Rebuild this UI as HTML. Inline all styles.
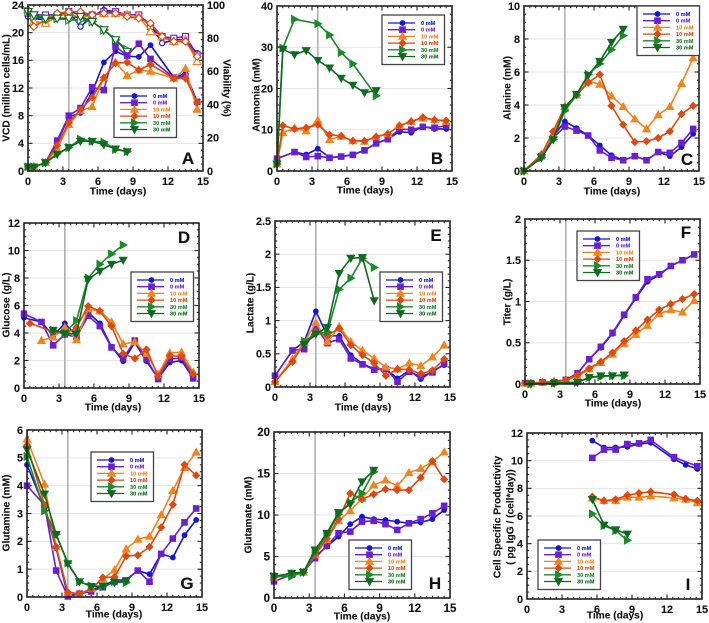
<!DOCTYPE html>
<html lang="en">
<head>
<meta charset="utf-8">
<title>Cell culture metrics by concentration</title>
<style>
html,body{margin:0;padding:0;background:#fff;width:709px;height:623px;overflow:hidden}
svg{display:block;filter:blur(.3px)}
text{font-family:"Liberation Sans",Arial,sans-serif;font-weight:bold;fill:#111;stroke:#111;stroke-width:.12px}
</style>
</head>
<body>
<svg id="figure" width="709" height="623" viewBox="0 0 709 623" xmlns="http://www.w3.org/2000/svg"></svg>
<script>
const _ = null;
const dayGrid = [0,0.5,1.5,2.5,3.5,4.5,5.5,6.5,7.5,8.5,9.5,10.5,11.5,12.5,13.5,14.5];
const dayGridI = [0,0.5,1.6,2.6,3.6,4.6,5.6,6.6,7.6,8.6,9.6,10.6,11.6,12.6,13.6,14.6];
const seriesLabels = ['0 mM','0 mM','10 mM','10 mM','30 mM','30 mM'];

const vcd0a = [.6,.6,1.2,4.2,7.8,8.4,11.4,15.7,17.3,16.6,16.5,18.2,_,13.5,14.1,10];
const vcd0b = [.6,.6,1.2,4.4,8,9.1,12.1,11.7,18,16.7,18.4,16.2,_,13.5,13.7,10];
const vcd10a = [.6,.6,1.2,3.2,6.7,8.7,9.3,13.5,15.7,13.8,14.6,14.4,_,13.4,14.8,8.9];
const vcd10b = [.6,.6,1.2,3.7,7,8.9,10.6,13.5,15.6,15.7,14.6,15.4,_,13.4,13.4,9.9];
const vcd30a = [.6,.6,1.2,2.5,3.4,4.6,4.3,4.2,3.1,2.8,_,_,_,_,_,_];
const vcd30b = [.6,.6,1.2,2.4,3.4,4.3,4.3,3.8,3.2,2.8,_,_,_,_,_,_];

const via0a = [93,92,91,94,96,87,93,97,96,94,94,88,77,79,79,71];
const via0b = [95,94,94,94,96,94,94,96,96,94,94,87,81,80,81,70];
const via10a = [97,90,89,93,95,92,94,95,95,94,93,84,81,78,79,66];
const via10b = [97,87,91,95,96,96,94,95,95,93,92,89,81,78,78,69];
const via30a = [96,93,92,92,91,91,90,85,79,73,_,_,_,_,_,_];
const via30b = [96,94,92,92,92,93,90,85,79,72,_,_,_,_,_,_];

const amm0a = [3,_,4.6,4,5.4,3.3,3.5,4,5,6.7,7.8,9.5,9.3,10.8,10.2,10.2];
const amm0b = [3,_,4.6,3.4,3.6,3.2,3.5,3.9,5,6.7,7.7,10.2,10,10.7,10.5,11];
const amm10a = [1.7,9.3,10.4,9.7,12.3,7.6,8.4,7.3,7.2,8.3,9,11,12,12.8,12.4,12];
const amm10b = [1.7,11,10.2,10.5,11.2,8.8,8.5,7.3,7.3,8.3,9,11,12,13,12.4,12.2];
const amm30a = [1.7,29.8,36.8,_,35.7,33,28.7,26,_,18.2,_,_,_,_,_,_];
const amm30b = [1.7,29.5,28.2,29.2,26.8,25,22.5,20.8,19,19.5,_,_,_,_,_,_];

const ala0a = [0,_,.9,2.1,3,2.6,2.15,1.55,.95,.65,.9,.65,1.15,.9,1.45,2.25];
const ala0b = [0,_,.9,2,2.7,2.45,2.15,1.25,.8,.65,.9,.65,1.15,1.1,1.7,2.55];
const ala10a = [0,_,1,2.2,3.9,4.6,5.45,5.25,4.55,3.9,3.15,2.55,3.4,3.9,5.3,6.85];
const ala10b = [0,_,1,2.4,3.9,4.6,5.35,5.85,3.95,2.8,1.75,1.8,2,2.4,3.45,3.95];
const ala30a = [0,_,.8,1.9,3.65,4.6,5.85,6.5,7.35,8.2,_,_,_,_,_,_];
const ala30b = [0,_,.8,1.9,3.85,4.65,5.8,6.65,7.8,8.6,_,_,_,_,_,_];

const glc0a = [5.1,_,4.8,3.8,4.7,3.8,5.5,4.7,3,1.95,3.3,1.95,.7,1.85,2,.7];
const glc0b = [5.4,_,4.8,3.1,3.9,3.7,5.25,4.5,2.95,2.15,3.45,2.1,.65,2.1,2.2,.7];
const glc10a = [_,_,3.45,3.7,4.4,3.5,5.75,5.6,4.8,3.2,3.35,2.5,1,2.55,2.6,1.15];
const glc10b = [_,4.7,_,4.1,3.95,4.4,5.95,5.6,4.5,2.5,2.15,2.8,.85,2.35,2.3,1];
const glc30a = [_,_,_,4.2,4,4.9,8,9,9.75,10.4,_,_,_,_,_,_];
const glc30b = [_,_,_,4.2,3.95,3.95,7.9,8.5,9,9.3,_,_,_,_,_,_];

const lac0a = [.17,_,.55,.68,1.14,.77,.77,.48,.35,.27,.27,.13,.25,.12,.24,.33];
const lac0b = [.17,_,.55,.57,.9,.66,.72,.43,.34,.26,.27,.08,.23,.16,.22,.35];
const lac10a = [.08,_,.42,.67,.97,.68,.91,.68,.55,.43,.3,.27,.36,.32,.45,.63];
const lac10b = [.08,_,.38,.66,.83,.78,.88,.63,.48,.36,.17,.27,.26,.2,.25,.42];
const lac30a = [_,_,_,.69,.8,.83,1.47,1.64,1.94,1.8,_,_,_,_,_,_];
const lac30b = [_,_,_,.64,.8,.9,1.71,1.94,1.95,1.3,_,_,_,_,_,_];

const tit0a = [.01,.01,.02,.02,.05,.13,.3,.44,.61,.83,1.04,1.24,1.32,1.43,1.5,1.57];
const tit0b = [.01,.01,.02,.02,.05,.13,.3,.45,.62,.84,1.05,1.27,1.33,1.43,1.5,1.57];
const tit10a = [.01,.01,.02,.03,.05,.09,.18,.26,.36,.49,.6,.71,.85,.9,.87,1.01];
const tit10b = [.01,.01,.02,.03,.05,.11,.19,.27,.38,.52,.65,.78,.9,.97,1.03,1.09];
const tit30a = [_,0,_,.01,_,.02,.08,.09,.1,.1,_,_,_,_,_,_];
const tit30b = [_,0,_,.01,_,.02,.08,.1,.1,.11,_,_,_,_,_,_];

const gln0a = [4.75,_,3.2,1.75,.05,.12,.25,.4,.6,.62,.95,.82,1.55,1.42,2.22,2.77];
const gln0b = [4,_,3.3,.95,.02,.12,.2,.35,.55,.6,.95,.55,1.55,2.1,2.68,3.18];
const gln10a = [5.67,_,4.05,1.8,.17,.1,.3,.65,.97,1.72,2.07,2.18,2.95,3.82,4.65,5.2];
const gln10b = [5.45,_,3.3,1.8,.17,.12,.28,.7,.72,1.47,1.5,1.8,2.5,3.32,4.75,4.37];
const gln30a = [5.05,_,3.1,2.25,1.22,.55,.4,.37,.55,.52,_,_,_,_,_,_];
const gln30b = [5.3,_,3.7,2.25,1.2,.55,.38,.4,.52,.58,_,_,_,_,_,_];

const glu0a = [2.5,_,2.8,3.1,5,6.2,7.4,8.9,9.8,9.5,9.4,9.2,9,9.1,9.5,10.6];
const glu0b = [2,_,2.8,3.1,4.8,6.3,7.8,8,9.2,9.3,8.9,8.2,9,9.5,10.2,11.1];
const glu10a = [2.5,_,2.9,3.1,5.2,7,9.3,10.5,12,13.6,14.2,13.5,15.1,15.6,16.4,17.6];
const glu10b = [2.5,_,2.9,3.1,5.2,7.2,9.5,12.6,11.9,12.5,13.1,13,13,14.5,16.5,14.3];
const glu30a = [2.6,_,2.6,3.1,5.5,7.6,10.1,11.5,12.6,15.2,_,_,_,_,_,_];
const glu30b = [2.6,_,3,3.1,5.8,7.8,10.3,11.3,14,15.4,_,_,_,_,_,_];

const csp0a = [_,_,_,_,_,_,11.45,10.95,10.95,11,11.2,11.3,_,10.1,9.7,9.4];
const csp0b = [_,_,_,_,_,_,10.2,10.8,10.8,11.2,11.25,11.5,_,10.25,_,9.6];
const csp10a = [_,_,_,_,_,_,7.3,7.1,7.1,7.35,7.35,7.45,_,7.3,7.2,6.95];
const csp10b = [_,_,_,_,_,_,7.4,7.1,7.2,7.5,7.65,7.75,_,7.55,7.25,7.1];
const csp30a = [_,_,_,_,_,_,6.15,5.3,4.95,4.25,_,_,_,_,_,_];
const csp30b = [_,_,_,_,_,_,7.2,5.35,5,4.7,_,_,_,_,_,_];

const colors = ['#1515d6','#6a1fd2','#f5821a','#e0480f','#1a8a2a','#0e6b1d'];
const shapes = ['circle','square','up','diamond','right','down'];

const panels = [
 {id:'a',letter:'A',L:28,R:203,T:5,B:171,yMax:24,yMajor:4,yMinor:1,title:['VCD (million cells/mL)'],tx:[6],ty:88,timeX:118,timeY:191,vline:true,
  series:[vcd0a,vcd0b,vcd10a,vcd10b,vcd30a,vcd30b],open:[via0a,via0b,via10a,via10b,via30a,via30b],lg:[114,88],lx:188,ly:158},
 {id:'b',letter:'B',L:277,R:452,T:6,B:171,yMax:40,yMajor:10,yMinor:2,title:['Ammonia (mM)'],tx:[256],ty:95,timeX:365,timeY:190,vline:true,
  series:[amm0a,amm0b,amm10a,amm10b,amm30a,amm30b],lg:[382,15],lx:437,ly:158},
 {id:'c',letter:'C',L:524,R:699,T:6,B:171,yMax:10,yMajor:2,yMinor:.5,title:['Alanine (mM)'],tx:[507],ty:88,timeX:612,timeY:191,vline:true,
  series:[ala0a,ala0b,ala10a,ala10b,ala30a,ala30b],lg:[637,6],lx:687,ly:159},
 {id:'d',letter:'D',L:24,R:199,T:223,B:388,yMax:12,yMajor:2,yMinor:.5,title:['Glucose (g/L)'],tx:[6],ty:305,timeX:113,timeY:407,vline:true,
  series:[glc0a,glc0b,glc10a,glc10b,glc30a,glc30b],lg:[131,272],lx:184,ly:237},
 {id:'e',letter:'E',L:275,R:450,T:221,B:387,yMax:2.5,yMajor:.5,yMinor:.1,title:['Lactate (g/L)'],tx:[250],ty:303,timeX:363,timeY:407,vline:true,
  series:[lac0a,lac0b,lac10a,lac10b,lac30a,lac30b],lg:[380,272],lx:436,ly:235},
 {id:'f',letter:'F',L:525,R:700,T:219,B:384,yMax:2,yMajor:.5,yMinor:.1,title:['Titer (g/L)'],tx:[507],ty:302,timeX:613,timeY:403,vline:true,
  series:[tit0a,tit0b,tit10a,tit10b,tit30a,tit30b],lg:[577,231],lx:686,ly:232},
 {id:'g',letter:'G',L:27,R:202,T:430,B:597,yMax:6,yMajor:1,yMinor:.25,title:['Glutamine (mM)'],tx:[6],ty:513,timeX:114,timeY:614,vline:true,
  series:[gln0a,gln0b,gln10a,gln10b,gln30a,gln30b],lg:[91,452],lx:187,ly:583},
 {id:'h',letter:'H',L:274,R:450,T:432,B:598,yMax:20,yMajor:5,yMinor:1,title:['Glutamate (mM)'],tx:[248],ty:515,timeX:362,timeY:616,vline:true,big:true,
  series:[glu0a,glu0b,glu10a,glu10b,glu30a,glu30b],lg:[349,540],lx:435,ly:583},
 {id:'i',letter:'I',L:527,R:702,T:433,B:599,yMax:12,yMajor:2,yMinor:.5,title:['Cell Specific Productivity','( pg IgG / (cell*day))'],tx:[497,510],ty:517,timeX:615,timeY:615,vline:false,days:dayGridI,
  series:[csp0a,csp0b,csp10a,csp10b,csp30a,csp30b],lg:[538,540],lx:688,ly:584}
];

const NS = 'http://www.w3.org/2000/svg';
const root = document.getElementById('figure');
function mk(tag, attrs, parent){
  const e = document.createElementNS(NS, tag);
  for (const k in attrs) e.setAttribute(k, attrs[k]);
  (parent || root).appendChild(e);
  return e;
}
function markerNode(shape, cx, cy, color, fill, parent){
  const s = 3.9;
  const sw = fill === '#fff' ? 1.1 : .6;
  if (shape === 'circle') return mk('circle',{cx:cx,cy:cy,r:2.6,fill:fill,stroke:color,'stroke-width':sw},parent);
  if (shape === 'square') return mk('rect',{x:cx-3,y:cy-3,width:6,height:6,fill:fill,stroke:color,'stroke-width':sw},parent);
  let pts;
  if (shape === 'up') pts = [[0,-s-.3],[s+.2,s-.8],[-s-.2,s-.8]];
  else if (shape === 'down') pts = [[0,s+.3],[s+.2,-s+.8],[-s-.2,-s+.8]];
  else if (shape === 'right') pts = [[s+.3,0],[-s+.8,-s-.2],[-s+.8,s+.2]];
  else pts = [[0,-s+.2],[s-.2,0],[0,s-.2],[-s+.2,0]];
  return mk('polygon',{points:pts.map(p=>(cx+p[0])+','+(cy+p[1])).join(' '),fill:fill,stroke:color,'stroke-width':sw},parent);
}
function drawSeries(g, vals, days, xs, ys, idx, open){
  const color = colors[idx];
  const seriesGroup = mk('g',{},g);
  
  
  const pts = [];
  vals.forEach((v,i)=>{ if (v !== null) pts.push([xs(days[i]), ys(v)]); });
  const line = mk('polyline',{points:pts.map(p=>p.join(',')).join(' '),fill:'none',stroke:color,'stroke-width':1.6,'stroke-linejoin':'round'},seriesGroup);
  
  
  pts.forEach(p=>{
    const m = markerNode(shapes[idx], p[0], p[1], color, open ? '#fff' : color, seriesGroup);
    
    
  });
}
function num(v){ return String(Math.round(v*1000)/1000); }

panels.forEach(p=>{
  const g = mk('g',{});
  
  
  const xs = d => p.L + (p.R-p.L)*d/15;
  const ys = v => p.B - (p.B-p.T)*v/p.yMax;
  const ys2 = v => p.B - (p.B-p.T)*v/100;
  const days = p.days || dayGrid;
  const fs = p.big ? 11.5 : 10.8;

  for (let v = p.yMajor; v < p.yMax - 1e-6; v += p.yMajor){
    const gl = mk('line',{x1:p.L,x2:p.R,y1:ys(v),y2:ys(v),stroke:'#e6e6e6','stroke-width':1},g);
    
    
  }
  if (p.vline){
    const vl = mk('line',{x1:xs(3.5),x2:xs(3.5),y1:p.T-1,y2:p.B,stroke:'#a5a5a5','stroke-width':1.4},g);
    
    
  }

  const ticks = mk('g',{stroke:'#222','stroke-width':1.1},g);
  
  
  for (let d = 0; d <= 30; d++){
    const day = d/2, major = d % 6 === 0, len = major ? 4.5 : 2.2;
    mk('line',{x1:xs(day),x2:xs(day),y1:p.B,y2:p.B-len},ticks);
    mk('line',{x1:xs(day),x2:xs(day),y1:p.T,y2:p.T+len},ticks);
    if (major){
      const t = mk('text',{x:xs(day),y:p.B+14,'text-anchor':'middle','font-size':fs},g);
      t.textContent = num(day);
      
      
    }
  }
  const nMinor = Math.round(p.yMax/p.yMinor), perMajor = Math.round(p.yMajor/p.yMinor);
  for (let i = 0; i <= nMinor; i++){
    const v = i*p.yMinor, major = i % perMajor === 0, len = major ? 4.5 : 2.2;
    mk('line',{x1:p.L,x2:p.L+len,y1:ys(v),y2:ys(v)},ticks);
    mk('line',{x1:p.R,x2:p.R-len,y1:ys(v),y2:ys(v)},ticks);
    if (major){
      const t = mk('text',{x:p.L-4,y:ys(v)+3.8,'text-anchor':'end','font-size':fs},g);
      t.textContent = num(v);
      
      
    }
  }

  if (p.open){
    for (let v = 0; v <= 100; v += 20){
      const t = mk('text',{x:p.R+4,y:ys2(v)+3.8,'font-size':fs},g);
      t.textContent = num(v);
      
      
    }
    p.open.forEach((vals,i)=>drawSeries(g, vals, days, xs, ys2, i, true));
  }
  p.series.forEach((vals,i)=>drawSeries(g, vals, days, xs, ys, i, false));

  const frame = mk('rect',{x:p.L,y:p.T,width:p.R-p.L,height:p.B-p.T,fill:'none',stroke:'#222','stroke-width':1.6},g);
  
  

  const xt = mk('text',{x:p.timeX,y:p.timeY+3.5,'text-anchor':'middle','font-size':10.2},g);
  xt.textContent = 'Time (days)';
  
  

  p.title.forEach((line,i)=>{
    const tt = mk('text',{x:p.tx[i],y:p.ty,'text-anchor':'middle','font-size':10.2,transform:'rotate(-90 '+p.tx[i]+' '+p.ty+') translate(0 3.5)'},g);
    tt.textContent = line;
    
    
  });
  if (p.open){
    const rt = mk('text',{x:227,y:88,'text-anchor':'middle','font-size':10.2,transform:'rotate(90 227 88) translate(0 3.5)'},g);
    rt.textContent = 'Viability (%)';
    
    
  }

  const lg = mk('g',{},g);
  
  
  const box = mk('rect',{x:p.lg[0],y:p.lg[1],width:62.5,height:49.5,fill:'#fff',stroke:'#444','stroke-width':1.3},lg);
  
  
  seriesLabels.forEach((label,i)=>{
    const y = p.lg[1] + 8 + i*6.7;
    const entry = mk('g',{},lg);
    
    
    mk('line',{x1:p.lg[0]+6,x2:p.lg[0]+33,y1:y,y2:y,stroke:colors[i],'stroke-width':1.3},entry);
    markerNode(shapes[i], p.lg[0]+20.5, y, colors[i], colors[i], entry);
    const t = mk('text',{x:p.lg[0]+39,y:y+2,'font-size':5.6},entry);
    t.setAttribute('style','fill:'+colors[i]+';stroke:'+colors[i]);
    t.textContent = label;
  });

  const letter = mk('text',{x:p.lx,y:p.ly+6,'text-anchor':'middle','font-size':17},g);
  letter.textContent = p.letter;
  
  
});
</script>
</body>
</html>
